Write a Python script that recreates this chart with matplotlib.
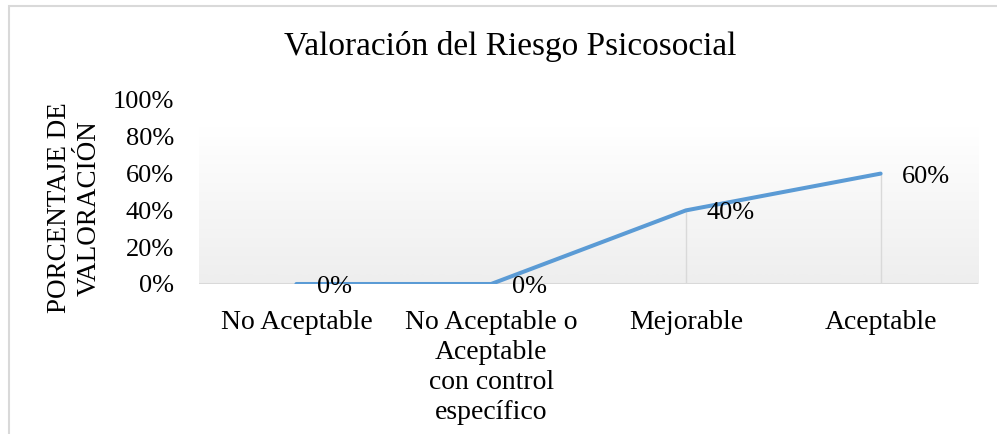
import numpy as np
import matplotlib
matplotlib.use("Agg")
import matplotlib.pyplot as plt
from matplotlib.patches import Rectangle

plt.rcParams['font.family'] = ['Liberation Serif', 'DejaVu Serif']

# data
categories = ['No Aceptable', 'No Aceptable o\nAceptable\ncon control\nespecífico', 'Mejorable', 'Aceptable']
values = [0, 0, 40, 60]
y_ticks = [0, 20, 40, 60, 80, 100]
y_tick_labels = ['0%', '20%', '40%', '60%', '80%', '100%']
title = 'Valoración del Riesgo Psicosocial'
y_label = 'PORCENTAJE DE\nVALORACIÓN'

W, H = 997, 434
fig = plt.figure(figsize=(W / 100, H / 100), dpi=100)

# chart border (cut off at right and bottom)
fig.patches.append(Rectangle((9 / W, -0.1), 1.2, 1 - 6 / H + 0.1, transform=fig.transFigure,
                             fill=False, edgecolor='#d9d9d9', linewidth=1.5))

left, right, top, bottom = 199, 978, 100, 284
ax = fig.add_axes([left / W, 1 - bottom / H, (right - left) / W, (bottom - top) / H])

x = np.arange(len(categories))
n = len(categories)

# gradient plot area: white at the top, light grey at the bottom
grad = np.linspace(1, 0, 256).reshape(-1, 1)
cmap = matplotlib.colors.LinearSegmentedColormap.from_list('g', ['#ffffff', '#eeeeee'])
ax.imshow(grad, cmap=cmap, origin='lower', extent=[-0.5, n - 0.5, 0, 85],
          aspect='auto', zorder=0)
ax.set_xlim(-0.5, n - 0.5)
ax.set_ylim(0, 100)

ax.vlines(x, 0, values, color='#d9d9d9', linewidth=1, zorder=1)
ax.axhline(0, color='#d9d9d9', linewidth=1.5, zorder=1)
ax.plot(x, values, color='#5b9bd5', linewidth=2.9, solid_capstyle='round', zorder=3)

for xi, v in zip(x, values):
    ax.annotate(f'{v}%', (xi, v), xytext=(21, -3), textcoords='offset pixels',
                ha='left', va='center', fontsize=19, color='#000000', zorder=4)

for s in ax.spines.values():
    s.set_visible(False)
ax.set_xticks(x)
ax.set_xticklabels(categories, fontsize=20, linespacing=1.25)
ax.set_yticks(y_ticks)
ax.set_yticklabels(y_tick_labels, fontsize=19)
ax.tick_params(axis='both', length=0)
ax.tick_params(axis='y', pad=18)
ax.tick_params(axis='x', pad=19)

fig.text(74 / W, 1 - 208 / H, y_label, rotation=90, ha='center', va='center',
         fontsize=19.5, linespacing=1.25, multialignment='center')
fig.text(510 / W, 1 - 47 / H, title, ha='center', va='center', fontsize=24)

fig.savefig('out.png', dpi=100)
